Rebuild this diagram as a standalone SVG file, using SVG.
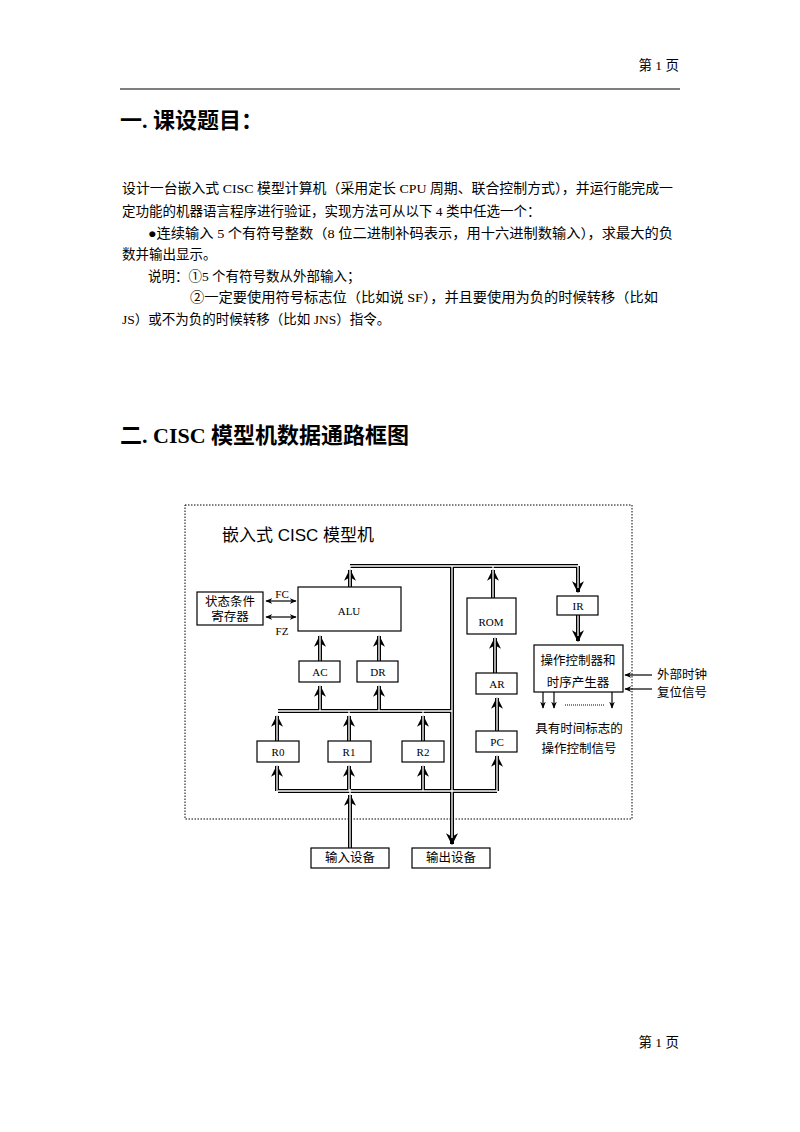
<svg xmlns="http://www.w3.org/2000/svg" width="800" height="1132" viewBox="0 0 800 1132">
<style>
text{font-family:"Liberation Serif","Noto Sans CJK SC",serif;fill:#000}
.p{font-size:13.5px}
.h{font-size:22px;font-weight:bold}
.b{fill:#fff;stroke:#000;stroke-width:1.2}
.o{fill:none;stroke:#000;stroke-width:4}
.i{fill:none;stroke:#fff;stroke-width:1.3}
.t{fill:none;stroke:#000;stroke-width:1.2}
.s{font-size:11px}
.m{font-size:12.5px}
</style>
<defs>
<marker id="a" viewBox="0 0 10 10" refX="9" refY="5" markerWidth="3" markerHeight="3" orient="auto" markerUnits="strokeWidth"><path d="M0,0L10,5L0,10L3,5z" fill="#000"/></marker>
<marker id="sa" viewBox="0 0 10 10" refX="9" refY="5" markerWidth="7" markerHeight="7" orient="auto-start-reverse" markerUnits="userSpaceOnUse"><path d="M0,1L10,5L0,9L3,5z" fill="#000"/></marker>
</defs>
<rect width="800" height="1132" fill="#fff"/>
<text x="679" y="70" class="p" text-anchor="end" font-size="12">第 1 页</text>
<line x1="120" y1="89" x2="680" y2="89" stroke="#000" stroke-width="1"/>
<text x="120" y="128" class="h">一. 课设题目：</text>
<text x="122" y="193" class="p" textLength="551" lengthAdjust="spacingAndGlyphs">设计一台嵌入式 CISC 模型计算机（采用定长 CPU 周期、联合控制方式），并运行能完成一</text>
<text x="122" y="216" class="p">定功能的机器语言程序进行验证，实现方法可从以下 4 类中任选一个：</text>
<text x="148" y="238" class="p" textLength="525" lengthAdjust="spacingAndGlyphs">●连续输入 5 个有符号整数（8 位二进制补码表示，用十六进制数输入），求最大的负</text>
<text x="122" y="259" class="p">数并输出显示。</text>
<text x="148" y="281" class="p">说明：①5 个有符号数从外部输入；</text>
<text x="190" y="302" class="p" textLength="468" lengthAdjust="spacingAndGlyphs">②一定要使用符号标志位（比如说 SF），并且要使用为负的时候转移（比如</text>
<text x="122" y="324" class="p">JS）或不为负的时候转移（比如 JNS）指令。</text>
<text x="120" y="443" class="h">二. CISC 模型机数据通路框图</text>
<text x="679" y="1047" class="p" text-anchor="end" font-size="12">第 1 页</text>

<rect x="185" y="505" width="447" height="314" fill="none" stroke="#000" stroke-width="1" stroke-dasharray="1.5,1.5"/>
<text x="222" y="541" font-size="17" style="font-family:'Liberation Sans','Noto Sans CJK SC',sans-serif">嵌入式 CISC 模型机</text>

<g id="connectors">
<path class="o" d="M350,566H578"/>
<path class="o" d="M452,566V844" marker-end="url(#a)"/>
<path class="o" d="M278,711H452"/>
<path class="o" d="M278,791H497"/>
<path class="o" d="M350,587V570" marker-end="url(#a)"/>
<path class="o" d="M578,566V592" marker-end="url(#a)"/>
<path class="o" d="M578,615V641" marker-end="url(#a)"/>
<path class="o" d="M493,598V570" marker-end="url(#a)"/>
<path class="o" d="M495,673V638" marker-end="url(#a)"/>
<path class="o" d="M497,731V698" marker-end="url(#a)"/>
<path class="o" d="M320,661V636" marker-end="url(#a)"/>
<path class="o" d="M379,661V636" marker-end="url(#a)"/>
<path class="o" d="M320,711V686" marker-end="url(#a)"/>
<path class="o" d="M379,711V686" marker-end="url(#a)"/>
<path class="o" d="M277,741V716" marker-end="url(#a)"/>
<path class="o" d="M349,741V716" marker-end="url(#a)"/>
<path class="o" d="M423,741V716" marker-end="url(#a)"/>
<path class="o" d="M277,791V766" marker-end="url(#a)"/>
<path class="o" d="M349,791V766" marker-end="url(#a)"/>
<path class="o" d="M423,791V766" marker-end="url(#a)"/>
<path class="o" d="M497,791V756" marker-end="url(#a)"/>
<path class="o" d="M350,848V795" marker-end="url(#a)"/>
<path class="i" d="M350,566H578M452,566V838M278,711H452M278,791H497"/>
<path class="i" d="M350,587V566M578,566V588M578,615V636M493,598V566M495,673V632M497,731V692M320,661V630M379,661V630M320,711V680M379,711V680M277,741V711M349,741V711M423,741V711M277,791V760M349,791V760M423,791V760M497,791V750M350,848V789"/>
<path class="t" d="M266,601H296" marker-start="url(#sa)" marker-end="url(#sa)"/>
<path class="t" d="M266,617H296" marker-start="url(#sa)" marker-end="url(#sa)"/>
<path class="t" d="M652,675H625" marker-end="url(#sa)"/>
<path class="t" d="M652,689H625" marker-end="url(#sa)"/>
<path class="t" d="M543,692V708" marker-end="url(#sa)"/>
<path class="t" d="M554,692V708" marker-end="url(#sa)"/>
<path class="t" d="M612,692V708" marker-end="url(#sa)"/>
<line x1="565" y1="705" x2="604" y2="705" stroke="#000" stroke-width="1" stroke-dasharray="1,1"/>
</g>

<g id="status"><rect class="b" x="197" y="592" width="66" height="33"/><text x="230" y="606" class="m" text-anchor="middle">状态条件</text><text x="230" y="621" class="m" text-anchor="middle">寄存器</text></g>
<text x="282" y="598" class="s" text-anchor="middle">FC</text>
<text x="282" y="635" class="s" text-anchor="middle">FZ</text>
<g id="alu"><rect class="b" x="298" y="587" width="103" height="44"/><text x="349" y="615" class="s" text-anchor="middle">ALU</text></g>
<g id="ac"><rect class="b" x="299" y="661" width="41" height="21"/><text x="320" y="676" class="s" text-anchor="middle">AC</text></g>
<g id="dr"><rect class="b" x="357" y="661" width="41" height="21"/><text x="378" y="676" class="s" text-anchor="middle">DR</text></g>
<g id="rom"><rect class="b" x="467" y="598" width="49" height="36"/><text x="491" y="626" class="s" text-anchor="middle">ROM</text></g>
<g id="ir"><rect class="b" x="557" y="596" width="41" height="19"/><text x="578" y="610" class="s" text-anchor="middle">IR</text></g>
<g id="ctrl"><rect class="b" x="534" y="645" width="89" height="47"/><text x="578" y="665" class="m" text-anchor="middle">操作控制器和</text><text x="578" y="687" class="m" text-anchor="middle">时序产生器</text></g>
<text x="657" y="679" class="m">外部时钟</text>
<text x="657" y="697" class="m">复位信号</text>
<text x="579" y="733" class="m" text-anchor="middle">具有时间标志的</text>
<text x="579" y="753" class="m" text-anchor="middle">操作控制信号</text>
<g id="ar"><rect class="b" x="476" y="673" width="41" height="21"/><text x="497" y="688" class="s" text-anchor="middle">AR</text></g>
<g id="pc"><rect class="b" x="476" y="731" width="41" height="21"/><text x="497" y="746" class="s" text-anchor="middle">PC</text></g>
<g id="r0"><rect class="b" x="257" y="741" width="42" height="21"/><text x="278" y="756" class="s" text-anchor="middle">R0</text></g>
<g id="r1"><rect class="b" x="328" y="741" width="43" height="21"/><text x="349" y="756" class="s" text-anchor="middle">R1</text></g>
<g id="r2"><rect class="b" x="402" y="741" width="42" height="21"/><text x="423" y="756" class="s" text-anchor="middle">R2</text></g>
<g id="in"><rect class="b" x="311" y="848" width="78" height="20"/><text x="350" y="862" class="m" text-anchor="middle">输入设备</text></g>
<g id="out"><rect class="b" x="412" y="848" width="78" height="20"/><text x="451" y="862" class="m" text-anchor="middle">输出设备</text></g>
</svg>
